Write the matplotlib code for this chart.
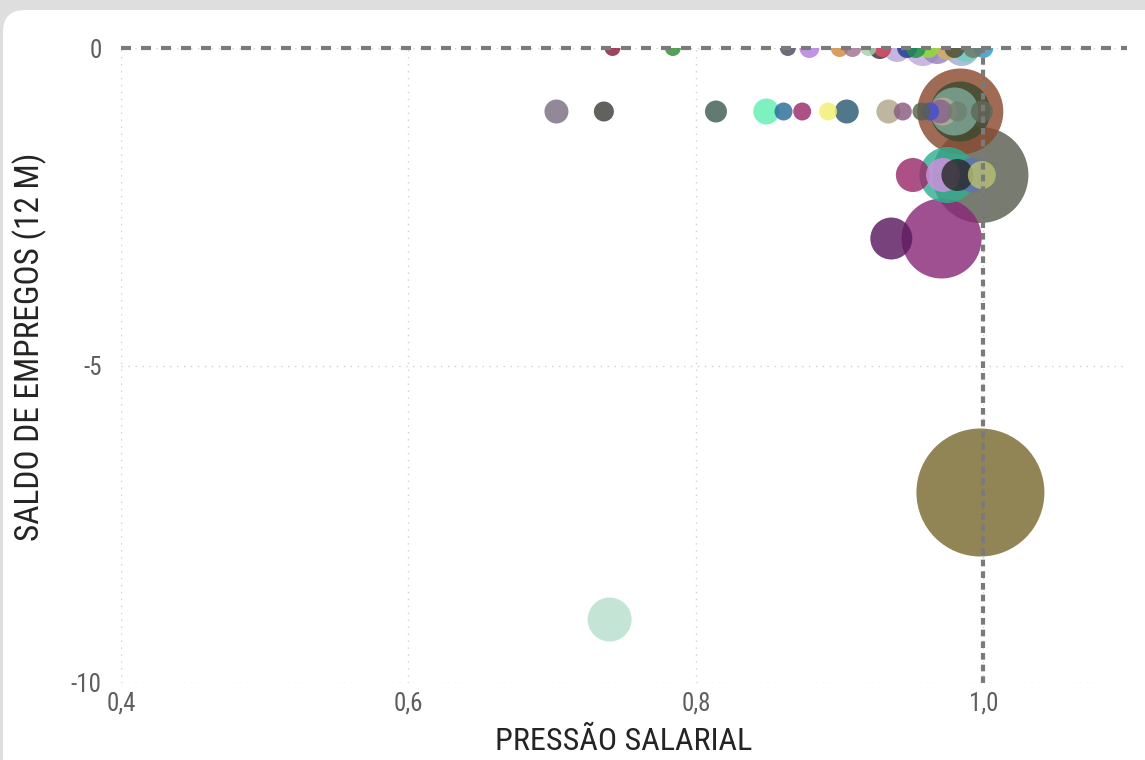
import matplotlib.pyplot as plt
from matplotlib.patches import FancyBboxPatch
from matplotlib import font_manager
import numpy as np

# pressao salarial (x), saldo de empregos (y), bubble weight (~radius in px on the original)
pressao = [0.742, 0.784, 0.864, 0.879, 0.900, 0.909, 0.920, 0.930, 0.928, 0.940,
           0.947, 0.953, 0.962, 0.968, 0.975, 0.980, 0.988, 0.993, 1.000, 0.958, 0.985,
           0.703, 0.736, 0.814, 0.849, 0.861, 0.874, 0.892, 0.905, 0.934, 0.944,
           0.957, 0.963, 0.984, 0.984, 0.980, 0.972, 0.982, 0.999, 0.970,
           0.998, 0.951, 0.972, 0.975, 0.992, 0.982, 0.999,
           0.936, 0.971,
           0.998,
           0.740]
saldo = [0]*21 + [-1]*19 + [-2]*7 + [-3]*2 + [-7] + [-9]
peso = [8, 8, 8, 10, 9, 9, 8, 9, 11, 14,
        10, 10, 10, 16, 12, 10, 14, 10, 10, 18, 18,
        12, 10, 11, 13, 9, 9, 9, 12, 12, 9,
        9, 9, 43, 30, 24, 14, 10, 11, 12,
        48, 17, 17, 28, 17, 16, 14,
        21, 40,
        64,
        22]
cores = ['#8B1A3A', '#2E8B2E', '#4B4B5E', '#B57BDD', '#D08A40', '#A07090', '#A8D0B0', '#E05070', '#3A3030', '#B8A8D8',
         '#203890', '#1E8F4A', '#90E030', '#9A80C0', '#D0B060', '#4A4A38', '#70D0C0', '#707868', '#3098C0', '#C0A8D8', '#A0B0D0',
         '#7A6E82', '#3E3E3A', '#3E5E52', '#60F0B0', '#2A6A9A', '#9A2A6A', '#F0F070', '#2A5A70', '#B0A888', '#8A5A80',
         '#5A6050', '#4050D0', '#8A4A30', '#3A4A30', '#7FA898', '#B0B090', '#708070', '#606858', '#8A6090',
         '#5A5E50', '#9A2A6A', '#D090E0', '#30B090', '#6070B0', '#2A2A2A', '#B8C070',
         '#5A1A60', '#8A2A78',
         '#7A6A30',
         '#B8E0CC']

x_ticks = [0.4, 0.6, 0.8, 1.0]
x_labels = ['0,4', '0,6', '0,8', '1,0']
y_ticks = [-10, -5, 0]
y_labels = ['-10', '-5', '0']

nomes = {f.name for f in font_manager.fontManager.ttflist}
fonte = [n for n in ['Liberation Sans Narrow', 'Roboto Condensed', 'Open Sans', 'DejaVu Sans'] if n in nomes]

fig = plt.figure(figsize=(11.45, 7.6), dpi=100, facecolor='#dedede')

# white card behind the chart
bg = fig.add_axes([0, 0, 1, 1], zorder=-1)
bg.set_xlim(0, 1145)
bg.set_ylim(760, 0)
bg.axis('off')
bg.add_patch(FancyBboxPatch((3, 10), 1300, 900, boxstyle='round,pad=0,rounding_size=22',
                            facecolor='white', edgecolor='none'))

ax = fig.add_axes([121/1145, 1 - 683/760, (1127 - 121)/1145, (683 - 48)/760])
ax.set_facecolor('none')

ordem = np.argsort(peso)[::-1]
px = np.array(pressao)[ordem]
py = np.array(saldo)[ordem]
pr = np.array(peso, dtype=float)[ordem]
pc = np.array(cores)[ordem]
ax.scatter(px, py, s=(2 * pr * 0.72) ** 2, c=pc, alpha=0.82, edgecolors='none', zorder=2)

ax.set_xlim(0.4, 1.1)
ax.set_ylim(-10, 0)

for xv in x_ticks:
    ax.axvline(xv, color='#d0d0d0', lw=1, ls=(0, (1, 4)), zorder=1)
for yv in y_ticks:
    ax.axhline(yv, color='#d0d0d0', lw=1, ls=(0, (1, 4)), zorder=1)

ax.axhline(0, color='#7a7a7a', lw=3, ls=(0, (2.4, 2.4)), zorder=3, clip_on=False)
ax.axvline(1.0, color='#7a7a7a', lw=3, ls=(0, (1.6, 1.2)), zorder=3, clip_on=False)

for s in ax.spines.values():
    s.set_visible(False)
ax.tick_params(length=0)
ax.set_xticks(x_ticks)
ax.set_xticklabels(x_labels, family=fonte, fontsize=18, color='#605E5C', stretch='condensed')
ax.set_yticks(y_ticks)
ax.set_yticklabels(y_labels, family=fonte, fontsize=18, color='#605E5C', stretch='condensed')
ax.tick_params(axis='x', pad=6)
ax.tick_params(axis='y', pad=14)

ax.set_xlabel('PRESSÃO SALARIAL', family=fonte, fontsize=23, color='#252423')
ax.set_ylabel('SALDO DE EMPREGOS (12 M)', family=fonte, fontsize=24, color='#252423')
ax.xaxis.set_label_coords(0.5, -0.07)
ax.yaxis.set_label_coords(-0.074, 0.53)

fig.savefig('out.png', dpi=100, facecolor=fig.get_facecolor())
